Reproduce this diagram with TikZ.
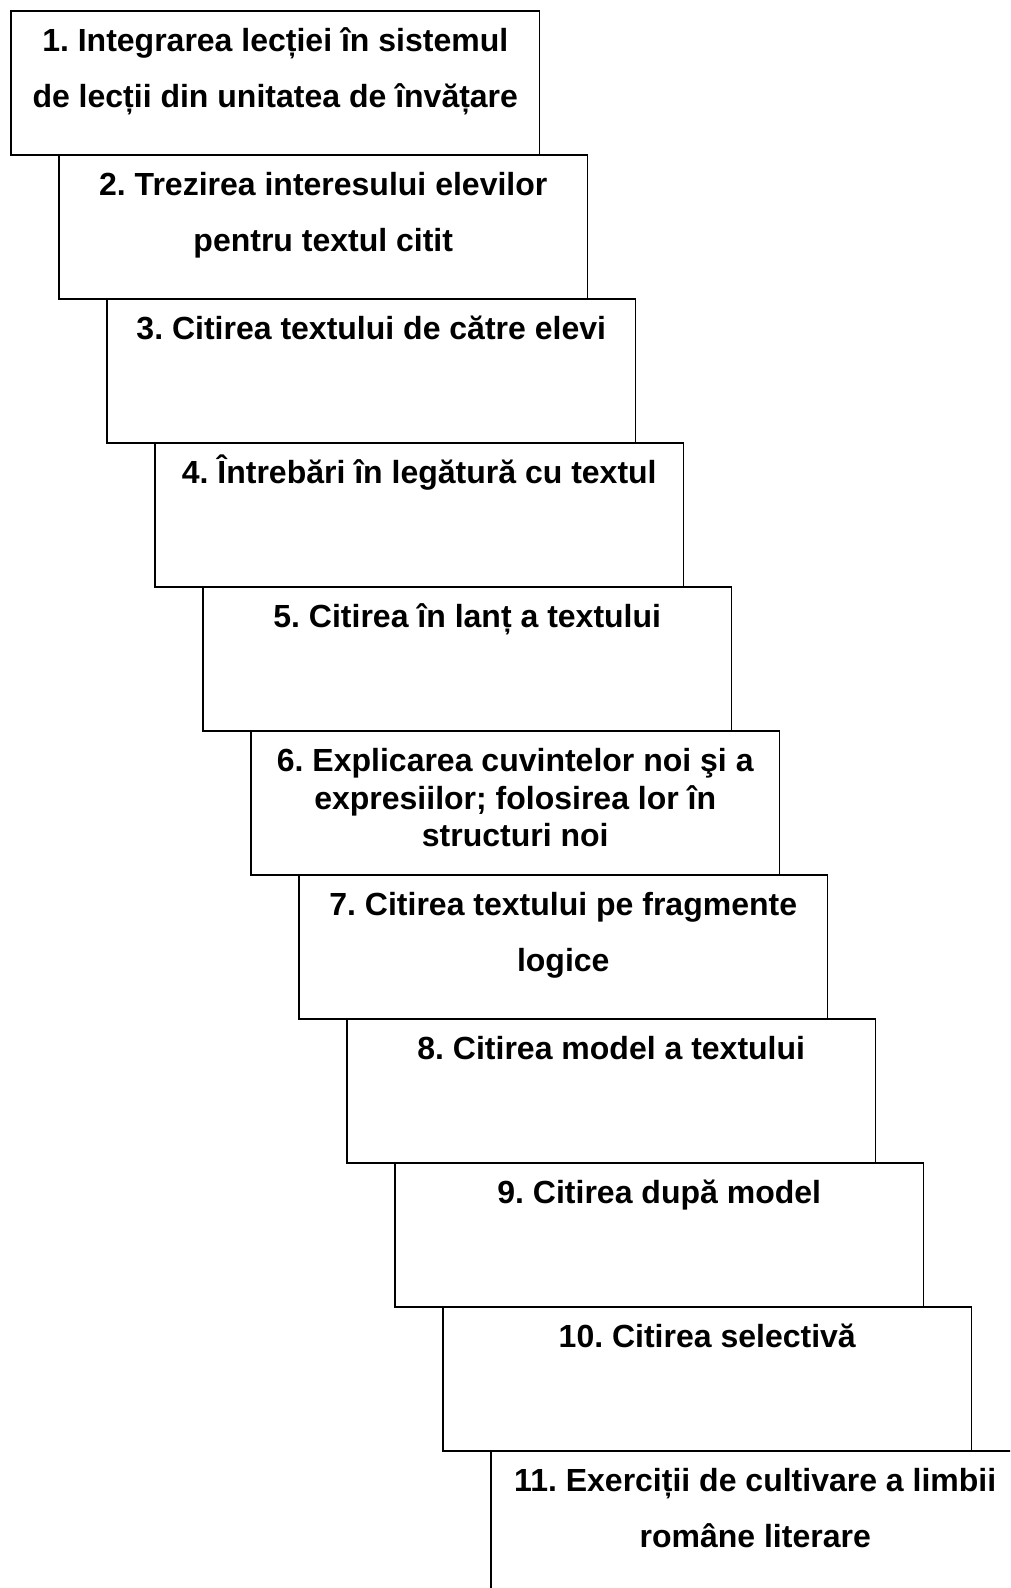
\documentclass[tikz,border=0pt]{standalone}
\usepackage{fontspec}
\setmainfont{Liberation Sans}
\usetikzlibrary{positioning}
\frenchspacing

\tikzset{
  stepbox/.style={draw=black, line width=1.5pt},
  steptext/.style={anchor=north, inner sep=0pt, align=center,
    font=\fontsize{32pt}{37.5pt}\selectfont\bfseries},
}
\newcommand{\firstline}{\rule{0pt}{32pt}}

\begin{document}
\begin{tikzpicture}[x=1pt, y=-1pt]

\clip (0,0) rectangle (1010,1588);
\fill[white] (0,0) rectangle (1010,1588);

\draw[stepbox] (11,11) rectangle ++(528.5,144);
\draw[stepbox] (59,155) rectangle ++(528.5,144);
\draw[stepbox] (107,299) rectangle ++(528.5,144);
\draw[stepbox] (155,443) rectangle ++(528.5,144);
\draw[stepbox] (203,587) rectangle ++(528.5,144);
\draw[stepbox] (251,731) rectangle ++(528.5,144);
\draw[stepbox] (299,875) rectangle ++(528.5,144);
\draw[stepbox] (347,1019) rectangle ++(528.5,144);
\draw[stepbox] (395,1163) rectangle ++(528.5,144);
\draw[stepbox] (443,1307) rectangle ++(528.5,144);
\draw[stepbox] (491,1451) rectangle ++(528.5,160);

\node[steptext] (s1) at (275.25,19.7) {\firstline 1. Integrarea lecției în sistemul\\[18pt] de lecții din unitatea de învățare};
\node[steptext] (s2) at (323.25,163.7) {\firstline 2. Trezirea interesului elevilor\\[18pt] pentru textul citit};
\node[steptext] (s3) at (371.25,307.7) {\firstline 3. Citirea textului de către elevi};
\node[steptext] (s4) at (419.25,451.7) {\firstline 4. Întrebări în legătură cu textul};
\node[steptext] (s5) at (467.25,595.7) {\firstline 5. Citirea în lanț a textului};
\node[steptext] (s6) at (515.25,739.7) {\firstline 6. Explicarea cuvintelor noi şi a\\ expresiilor; folosirea lor în\\ structuri noi};
\node[steptext] (s7) at (563.25,883.7) {\firstline 7. Citirea textului pe fragmente\\[18pt] logice};
\node[steptext] (s8) at (611.25,1027.7) {\firstline 8. Citirea model a textului};
\node[steptext] (s9) at (659.25,1171.7) {\firstline 9. Citirea după model};
\node[steptext] (s10) at (707.25,1315.7) {\firstline 10. Citirea selectivă};
\node[steptext] (s11) at (755.25,1459.7) {\firstline 11. Exerciții de cultivare a limbii\\[18pt] române literare};

\end{tikzpicture}
\end{document}
